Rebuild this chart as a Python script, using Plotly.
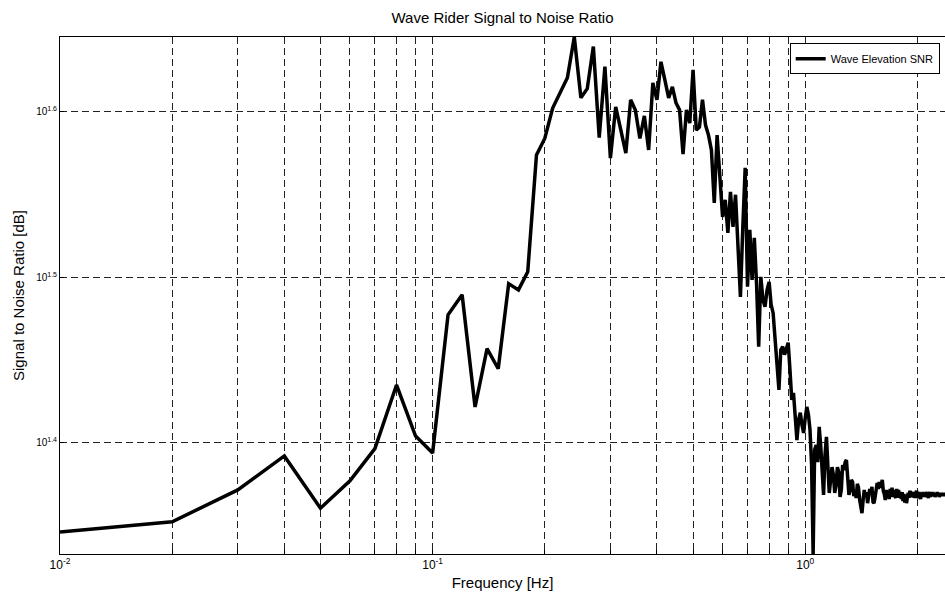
import plotly.graph_objects as go

# Spectral bins are 0.01 Hz wide, starting at 0.01 Hz
FREQ_STEP_HZ = 0.01

# Wave elevation signal-to-noise ratio per frequency bin [dB]
snr_db = [
    22.19, 22.51, 23.53, 24.67, 22.94, 23.83, 24.92, 27.23, 25.36, 24.77,  # 0.01-0.10
    30.02, 30.87, 26.41, 28.64, 27.85, 31.35, 31.08, 31.87, 37.50, 38.37,  # 0.11-0.20
    40.03, 40.88, 41.75, 44.19, 40.60, 41.12, 43.60, 38.42, 42.40, 37.34,  # 0.21-0.30
    40.09, 38.82, 37.60, 40.49, 39.92, 38.37, 39.59, 37.76, 41.46, 40.49,  # 0.31-0.40
    42.69, 41.63, 40.60, 41.23, 40.32, 39.92, 37.55, 39.92, 39.20, 42.22,  # 0.41-0.50
    38.82, 38.98, 40.49, 39.09, 38.55, 37.76, 35.08, 38.55, 36.47, 34.40,  # 0.51-0.60
    35.23, 33.65, 35.62, 33.93, 35.48, 33.32, 30.78, 33.93, 36.83, 31.22,  # 0.61-0.70
    33.79, 31.52, 33.42, 31.39, 28.72, 31.65, 30.66, 30.36, 31.08, 31.43,  # 0.71-0.80
    30.45, 30.10, 29.00, 28.20, 27.04, 28.60, 28.72, 28.40, 28.68, 28.88,  # 0.81-0.90
    27.81, 26.67, 26.93, 25.94, 25.22, 25.94, 26.20, 25.76, 25.47, 26.01,  # 0.91-1.00
    26.41, 26.12, 25.58, 24.36, 21.52, 24.88, 25.05, 24.46, 25.69, 25.05,  # 1.01-1.10
    23.86, 23.37, 24.71, 25.33, 24.36, 23.43, 23.86, 24.29, 24.03, 23.43,  # 1.11-1.20
    23.70, 24.29, 24.12, 23.30, 23.53, 24.36, 24.19, 24.46, 24.53, 23.93,  # 1.21-1.30
    23.37, 23.53, 23.86, 23.79, 23.33, 23.46, 23.27, 23.73, 23.60, 23.20,  # 1.31-1.40
    22.94, 22.78, 23.20, 23.53, 23.30, 23.46, 23.10, 23.27, 23.56, 23.40,  # 1.41-1.50
    23.63, 23.14, 23.10, 23.30, 23.63, 23.76, 23.56, 23.79, 23.60, 23.83,  # 1.51-1.60
    23.86, 23.50, 23.40, 23.20, 23.53, 23.27, 23.50, 23.23, 23.56, 23.36,  # 1.61-1.70
    23.60, 23.30, 23.53, 23.33, 23.27, 23.56, 23.33, 23.53, 23.27, 23.46,  # 1.71-1.80
    23.23, 23.46, 23.17, 23.40, 23.12, 23.36, 23.10, 23.30, 23.43, 23.27,  # 1.81-1.90
    23.50, 23.30, 23.46, 23.36, 23.30, 23.46, 23.27, 23.43, 23.50, 23.33,  # 1.91-2.00
    23.27, 23.46, 23.30, 23.23, 23.43, 23.30, 23.46, 23.33, 23.43, 23.30,  # 2.01-2.10
    23.40, 23.46, 23.33, 23.27, 23.40, 23.46, 23.30, 23.43, 23.33, 23.46,  # 2.11-2.20
    23.33, 23.43, 23.30, 23.40, 23.33, 23.46, 23.36, 23.43, 23.30, 23.40,  # 2.21-2.30
    23.43, 23.33, 23.43, 23.36, 23.43, 23.33, 23.40, 23.36,                # 2.31-2.38
]
freq_hz = [round(FREQ_STEP_HZ * (i + 1), 2) for i in range(len(snr_db))]

# Log-axis grid: every 1..9 multiple of each decade, labels on decades only
x_grid = [0.01, 0.02, 0.03, 0.04, 0.05, 0.06, 0.07, 0.08, 0.09,
          0.1, 0.2, 0.3, 0.4, 0.5, 0.6, 0.7, 0.8, 0.9, 1.0, 2.0]
x_decade_labels = {0.01: "10<sup>-2</sup>", 0.1: "10<sup>-1</sup>", 1.0: "10<sup>0</sup>"}
x_ticktext = [x_decade_labels.get(v, "") for v in x_grid]

y_exponents = [1.4, 1.5, 1.6]
y_tickvals = [10 ** e for e in y_exponents]
y_ticktext = [f"10<sup>{e}</sup>" for e in y_exponents]

FONT = "Liberation Sans, Arial, Helvetica, sans-serif"
GRID_DASH = "7px,4px"

fig = go.Figure()
fig.add_trace(go.Scatter(
    x=freq_hz, y=snr_db, mode="lines", name="Wave Elevation SNR",
    line=dict(color="black", width=3.5),
))

fig.update_layout(
    width=945, height=596,
    margin=dict(l=60, r=0, t=37, b=42),
    paper_bgcolor="white", plot_bgcolor="white",
    font=dict(family=FONT, color="black"),
    title=dict(text="Wave Rider Signal to Noise Ratio", x=0.5, xref="paper",
               y=1 - 18 / 596, yanchor="middle", font=dict(size=15)),
    showlegend=True,
    legend=dict(x=0.994, xanchor="right", y=0.988, yanchor="top",
                bgcolor="white", bordercolor="black", borderwidth=1,
                font=dict(size=11), itemwidth=30),
)

fig.update_xaxes(
    type="log", range=[-2, 0.3751],
    tickmode="array", tickvals=x_grid, ticktext=x_ticktext,
    tickfont=dict(size=12), ticks="inside", ticklen=4, tickcolor="black",
    showgrid=True, gridcolor="#222222", gridwidth=1, griddash=GRID_DASH,
    showline=True, linecolor="black", linewidth=1, mirror=True,
    zeroline=False,
    title=dict(text="Frequency [Hz]", font=dict(size=15), standoff=6),
)
fig.update_yaxes(
    type="log", range=[1.3329, 1.6453],
    tickmode="array", tickvals=y_tickvals, ticktext=y_ticktext,
    tickfont=dict(size=10), ticks="inside", ticklen=4, tickcolor="black",
    showgrid=True, gridcolor="#222222", gridwidth=1, griddash=GRID_DASH,
    showline=True, linecolor="black", linewidth=1,
    zeroline=False,
    title=dict(text="Signal to Noise Ratio [dB]", font=dict(size=15), standoff=7),
)

fig.write_html("out.html")
